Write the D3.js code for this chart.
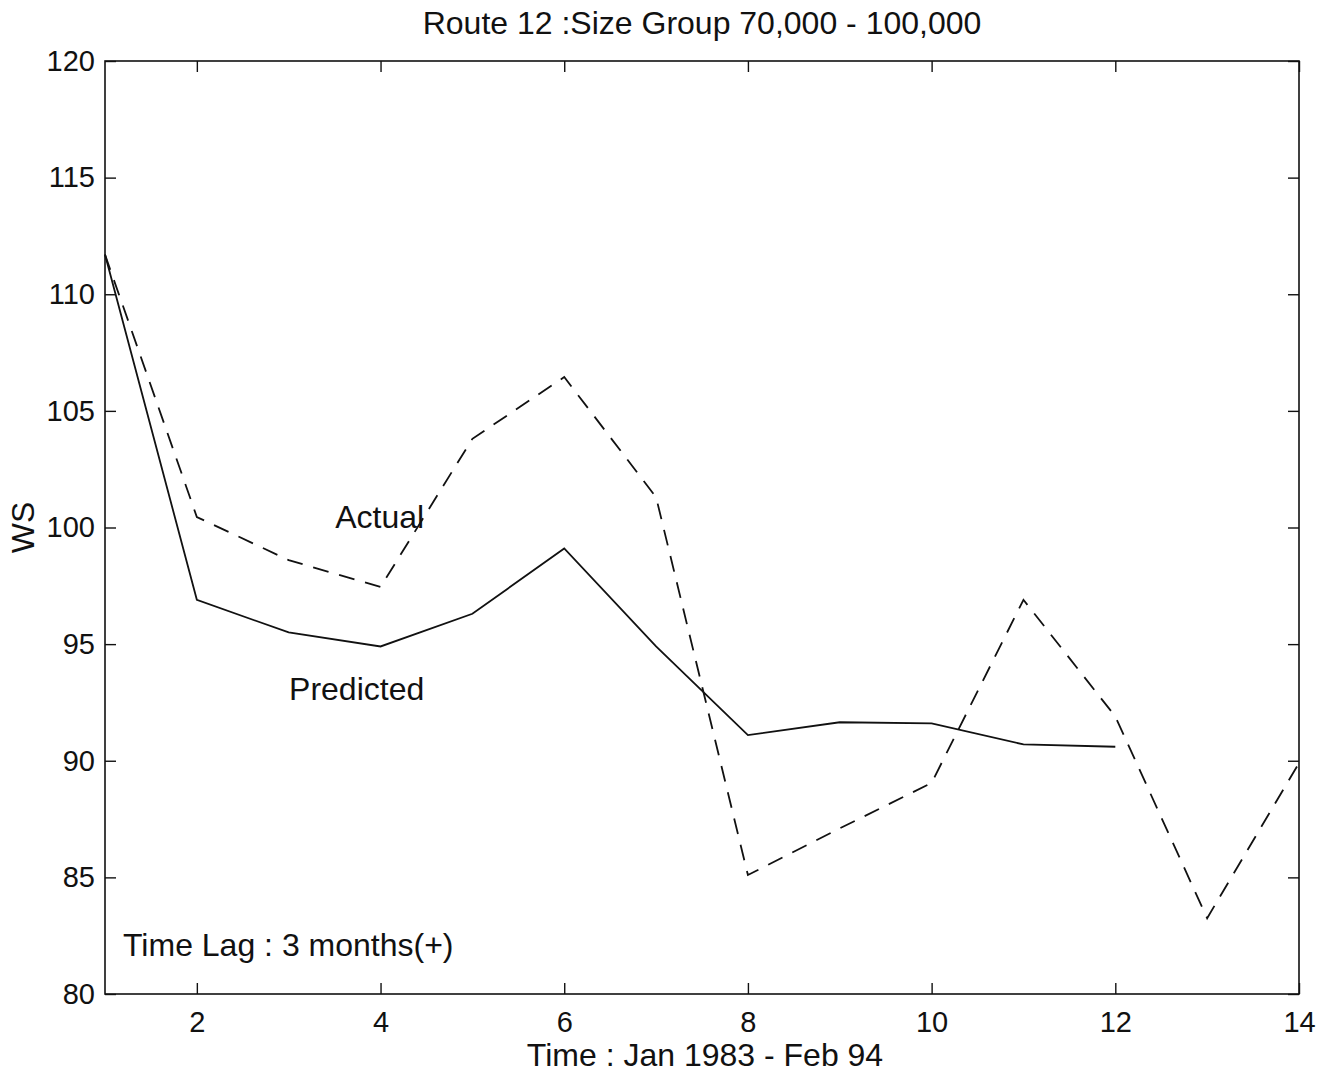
<!DOCTYPE html>
<html>
<head>
<meta charset="utf-8">
<script src="https://cdn.jsdelivr.net/npm/d3@7"></script>
<style>
  html, body { margin: 0; padding: 0; background: #fff; }
  text { font-family: "Liberation Sans", Arial, Helvetica, sans-serif; fill: #111; }
</style>
</head>
<body>
<svg id="chart" width="1325" height="1076"></svg>
<script>
const titleText = "Route 12 :Size Group 70,000 - 100,000";
const xLabel = "Time : Jan 1983 - Feb 94";
const yLabel = "WS";
const annotation = "Time Lag : 3 months(+)";

const actualX = [1, 2, 3, 4, 5, 6, 7, 8, 9, 10, 11, 12, 13, 14];
const actualY = [111.7, 100.45, 98.6, 97.45, 103.8, 106.45, 101.3, 85.1, 87.1, 89.05, 96.9, 91.9, 83.25, 89.9];

const predictedX = [1, 2, 3, 4, 5, 6, 7, 8, 9, 10, 11, 12];
const predictedY = [111.7, 96.9, 95.5, 94.9, 96.3, 99.1, 94.9, 91.1, 91.65, 91.6, 90.7, 90.6];

const xTicks = [2, 4, 6, 8, 10, 12, 14];
const yTicks = [80, 85, 90, 95, 100, 105, 110, 115, 120];

const labelActual = { text: "Actual", x: 3.99, y: 100.0 };
const labelPredicted = { text: "Predicted", x: 3.74, y: 92.6 };

const svg = d3.select("#chart");
const L = 105, R = 1299, T = 61, B = 994;

const x = d3.scaleLinear().domain([1, 14]).range([L, R]);
const y = d3.scaleLinear().domain([80, 120]).range([B, T]);

const tickLen = 11;
const tickFs = 29;
const fs = 32;

// frame
svg.append("rect").attr("x", L).attr("y", T).attr("width", R - L).attr("height", B - T)
  .attr("fill", "none").attr("stroke", "#111").attr("stroke-width", 1.6);

// axes (inward ticks on all four sides)
const axB = d3.axisBottom(x).tickValues(xTicks).tickSizeInner(-tickLen).tickSizeOuter(0).tickPadding(17).tickFormat(d3.format("d"));
const axT = d3.axisTop(x).tickValues(xTicks).tickSizeInner(-tickLen).tickSizeOuter(0).tickFormat("");
const axLft = d3.axisLeft(y).tickValues(yTicks).tickSizeInner(-tickLen).tickSizeOuter(0).tickPadding(10).tickFormat(d3.format("d"));
const axRt = d3.axisRight(y).tickValues(yTicks).tickSizeInner(-tickLen).tickSizeOuter(0).tickFormat("");

function style(g) {
  g.select(".domain").remove();
  g.selectAll(".tick line").attr("stroke", "#111").attr("stroke-width", 1.4);
  g.selectAll(".tick text").attr("font-size", tickFs).attr("fill", "#111")
    .attr("font-family", "'Liberation Sans', Arial, sans-serif");
}
svg.append("g").attr("transform", `translate(0,${B})`).call(axB).call(style);
svg.append("g").attr("transform", `translate(0,${T})`).call(axT).call(style);
svg.append("g").attr("transform", `translate(${L},0)`).call(axLft).call(style);
svg.append("g").attr("transform", `translate(${R},0)`).call(axRt).call(style);

// lines
const line = d3.line().x(d => x(d[0])).y(d => y(d[1]));
const predicted = predictedX.map((v, i) => [v, predictedY[i]]);
const actual = actualX.map((v, i) => [v, actualY[i]]);

svg.append("path").datum(predicted).attr("d", line)
  .attr("fill", "none").attr("stroke", "#111").attr("stroke-width", 1.8).attr("stroke-linejoin", "miter");
svg.append("path").datum(actual).attr("d", line)
  .attr("fill", "none").attr("stroke", "#111").attr("stroke-width", 1.8)
  .attr("stroke-dasharray", "16,11");

// labels
svg.append("text").attr("x", x(labelActual.x)).attr("y", y(labelActual.y)).attr("font-size", fs)
  .attr("text-anchor", "middle").text(labelActual.text);
svg.append("text").attr("x", x(labelPredicted.x)).attr("y", y(labelPredicted.y)).attr("font-size", fs)
  .attr("text-anchor", "middle").text(labelPredicted.text);
svg.append("text").attr("x", 123).attr("y", 956).attr("font-size", fs).text(annotation);

// title and axis labels
svg.append("text").attr("x", 702).attr("y", 34).attr("font-size", fs)
  .attr("text-anchor", "middle").text(titleText);
svg.append("text").attr("x", 705).attr("y", 1066).attr("font-size", fs)
  .attr("text-anchor", "middle").text(xLabel);
svg.append("text").attr("transform", `translate(34,${(T + B) / 2}) rotate(-90)`).attr("font-size", fs)
  .attr("text-anchor", "middle").text(yLabel);
</script>
</body>
</html>
